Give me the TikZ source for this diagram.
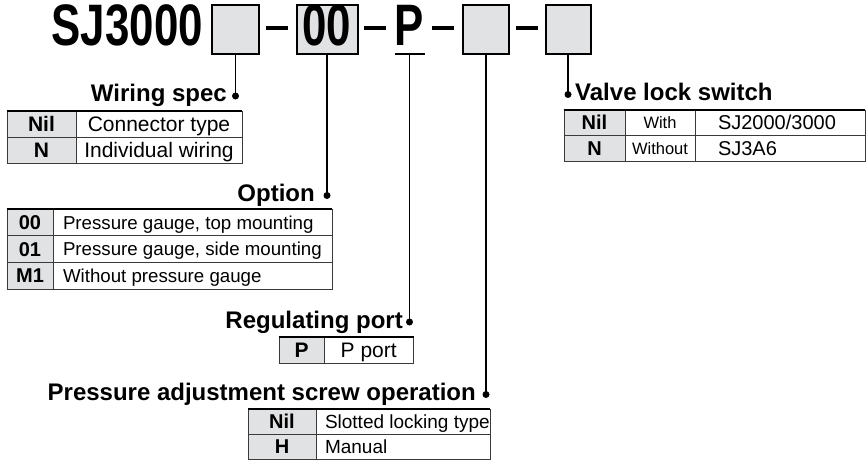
\documentclass[tikz,border=0pt]{standalone}
\usepackage{fontspec}
\setmainfont{Liberation Sans}
\newfontfamily\hdrfont[FakeStretch=0.75]{Liberation Sans}
\usepackage{xcolor}
\definecolor{kgray}{HTML}{E1E2E4}
\definecolor{tline}{HTML}{3A3A3A}
\tikzset{
  selbox/.style={draw=black, line width=2pt, fill=kgray, minimum height=49pt, inner sep=0pt},
  hdr/.style={font=\hdrfont\bfseries\fontsize{58.5}{60}\selectfont, inner sep=0pt, anchor=base},
  lbl/.style={font=\bfseries\fontsize{24}{26}\selectfont, inner sep=0pt},
  jdot/.style={circle, fill=black, minimum size=7pt, inner sep=0pt},
  lead/.style={line width=1.8pt},
  tfs/.style={font=\fontsize{#1}{#1}\selectfont, text height={0.716*#1pt}, text depth=0pt},
  tfsb/.style={font=\bfseries\fontsize{#1}{#1}\selectfont, text height={0.716*#1pt}, text depth=0pt},
  keycell/.style={draw=tline, line width=0.9pt, fill=kgray, inner sep=0pt},
  desccell/.style={draw=tline, line width=0.9pt, inner sep=0pt},
  topline/.style={line width=2pt},
}
\begin{document}
\begin{tikzpicture}[x=1pt, y=-1pt]
\useasboundingbox (0,0) rectangle (867,461);
\fill[white] (0,0) rectangle (867,461);
% ---------- model code ----------
\node[hdr, anchor=base west] (sj) at (51.5,45.4) {SJ3000};
\node[selbox, minimum width=47pt] (b1) at (235.5,29.6) {};
\node[selbox, minimum width=61pt] (b2) at (327,29.6) {};
\node[hdr] (t00) at (327,45.4) {00};
\node[hdr] (tP) at (409,45.4) {P};
\coordinate (uL) at (394.5,54);
\coordinate (uR) at (424.5,54);
\coordinate (uP) at (409.5,54);
\draw[line width=2pt] (uL) -- (uR);
\node[selbox, minimum width=46pt] (b4) at (486,29.6) {};
\node[selbox, minimum width=45pt] (b5) at (568,29.6) {};
\foreach \xa in {266,363.5,432,515.5}
  \draw[line width=3.6pt] (\xa,28) -- ++(22,0);
% ---------- leads ----------
\node[jdot] (dW) at (235.5,96) {};
\node[jdot] (dO) at (327,195.5) {};
\node[jdot] (dR) at (409.5,322) {};
\node[jdot] (dA) at (486,394.5) {};
\node[jdot] (dV) at (568,94.5) {};
\draw[lead] (b1.south) -- (dW.center);
\draw[lead] (b2.south) -- (dO.center);
\draw[lead] (uP) -- (dR.center);
\draw[lead] (b4.south) -- (dA.center);
\draw[lead] (b5.south) -- (dV.center);
\node[lbl, anchor=base east] (lW) at (227,101.7) {Wiring spec};
\node[lbl, anchor=base east] (lO) at (315,201.7) {Option};
\node[lbl, anchor=base east] (lR) at (403,328) {Regulating port};
\node[lbl, anchor=base east] (lA) at (476,400) {Pressure adjustment screw operation};
\node[lbl, anchor=base west] (lV) at (575,100) {Valve lock switch};
% ---------- wiring spec ----------
\foreach \k/\d [count=\i] in {Nil/Connector type, N/Individual wiring}{
  \node[keycell, tfsb=21, minimum width=69pt, minimum height=26pt] (wsK\i) at (41.5,98+26*\i) {\k};
  \node[desccell, tfs=21, minimum width=166pt, minimum height=26pt] (wsD\i) at (159,98+26*\i) {\d};
}
\draw[topline] (wsK1.north west) -- (wsD1.north east);
% ---------- option ----------
\foreach \k/\d [count=\i] in {00/{Pressure gauge, top mounting}, 01/{Pressure gauge, side mounting}, M1/{Without pressure gauge}}{
  \node[keycell, tfsb=20, minimum width=46pt, minimum height=26.7pt] (opK\i) at (30,195.65+26.7*\i) {\k};
  \node[desccell, tfs=18.7, minimum width=279pt, minimum height=26.7pt, inner xsep=10pt] (opD\i) at (192.5,195.65+26.7*\i) {\makebox[259pt][l]{\d}};
}
\draw[topline] (opK1.north west) -- (opD1.north east);
% ---------- regulating port ----------
\node[keycell, tfsb=21, minimum width=45pt, minimum height=26pt] (rpK) at (301.5,350) {P};
\node[desccell, tfs=21, minimum width=89.5pt, minimum height=26pt] (rpD) at (368.75,350) {P port};
\draw[topline] (rpK.north west) -- (rpD.north east);
% ---------- pressure adjustment ----------
\foreach \k/\d [count=\i] in {Nil/Slotted locking type, H/Manual}{
  \node[keycell, tfsb=20, minimum width=68pt, minimum height=25pt] (paK\i) at (282,396.5+25*\i) {\k};
  \node[desccell, tfs=19, minimum width=174pt, minimum height=25pt, inner xsep=9pt] (paD\i) at (403,396.5+25*\i) {\makebox[156pt][l]{\d}};
}
\draw[topline] (paK1.north west) -- (paD1.north east);
% ---------- valve lock switch ----------
\foreach \k/\m/\s [count=\i] in {Nil/With/{SJ2000/3000}, N/Without/SJ3A6}{
  \node[keycell, tfsb=20, minimum width=61pt, minimum height=25.5pt] (vlK\i) at (594.5,97.25+25.5*\i) {\k};
  \node[desccell, tfs=16.5, minimum width=70pt, minimum height=25.5pt] (vlM\i) at (660,97.25+25.5*\i) {\m};
  \node[desccell, tfs=20, minimum width=170pt, minimum height=25.5pt, inner xsep=23pt] (vlS\i) at (780,97.25+25.5*\i) {\makebox[124pt][l]{\s}};
}
\draw[topline] (vlK1.north west) -- (vlS1.north east);
\end{tikzpicture}
\end{document}
